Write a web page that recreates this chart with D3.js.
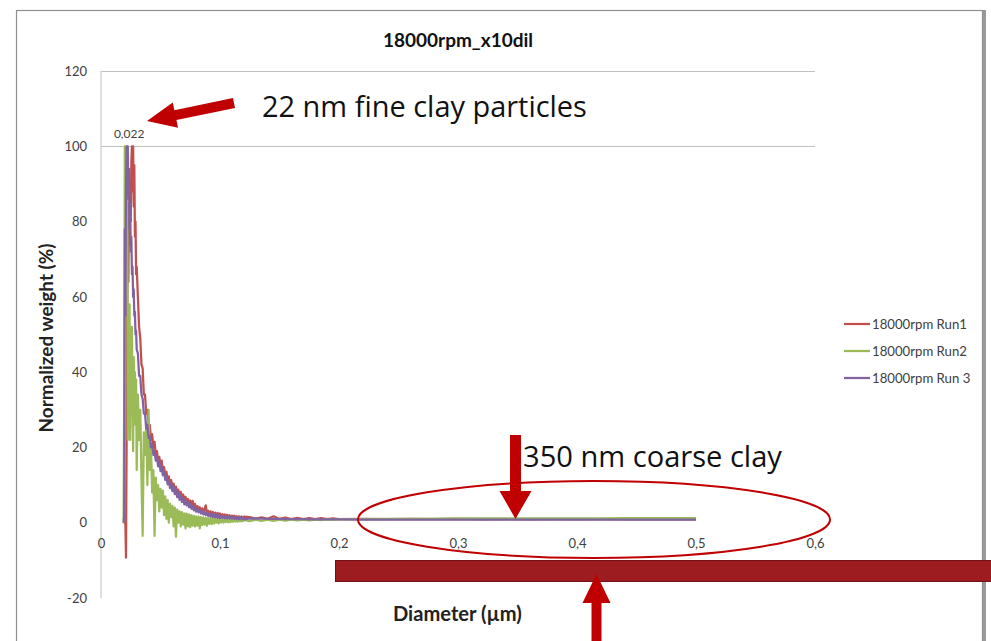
<!DOCTYPE html>
<html><head><meta charset="utf-8">
<script src="https://cdn.jsdelivr.net/npm/d3@7"></script>
<style>html,body{margin:0;padding:0;background:#fff;} svg{display:block}</style>
</head><body>
<svg id="chart" width="991" height="641"></svg>
<script>
// ---------------- DATA ----------------
const diameters = [
0.019,0.0195,0.020,0.0205,0.021,0.0215,0.022,0.0225,0.023,0.0235,0.024,0.0245,0.025,0.0255,0.026,0.0265,0.027,0.0275,0.028,0.0285,0.029,0.0295,0.030,
0.031,0.032,0.033,0.034,0.035,0.036,0.037,0.038,0.039,0.040,
0.041,0.042,0.043,0.044,0.045,0.046,0.047,0.048,0.049,0.050,
0.051,0.052,0.053,0.054,0.055,0.056,0.057,0.058,0.059,0.060,
0.061,0.062,0.063,0.064,0.065,0.066,0.067,0.068,0.069,0.070,
0.071,0.072,0.073,0.074,0.075,0.076,0.077,0.078,0.079,0.080,
0.081,0.082,0.083,0.084,0.085,0.086,0.087,0.088,0.089,0.090,
0.091,0.092,0.093,0.094,0.095,0.096,0.097,0.098,0.099,0.100,
0.101,0.102,0.103,0.104,0.105,0.106,0.107,0.108,0.109,0.110,
0.111,0.112,0.113,0.114,0.115,0.116,0.117,0.118,0.119,0.120,
0.125,0.130,0.135,0.140,0.145,0.150,0.155,0.160,0.165,0.170,0.175,0.180,0.185,0.190,0.195,0.200,
0.22,0.24,0.26,0.28,0.30,0.32,0.34,0.36,0.38,0.40,0.42,0.44,0.46,0.48,0.50
];

const run1 = [
0,0,0,0,-9.3,20,55,72,64,85,74,90,80,96,100,88,100,84,95,76,80,66,68,
60,52,49,42,41,34,34,29,30,25.5,
26,22,23.5,20,21.5,18,19,16.5,17.5,15,
16.5,13.5,14.8,12.4,13.5,11.2,12.3,10.2,11.3,9.1,
10.4,8.5,9.6,7.8,8.8,7,8.2,6.4,7.5,5.7,
6.9,5.2,6.3,4.7,5.9,4.4,5.8,4,5,3.6,
4.4,3.2,4.1,2.9,3.8,2.6,3.6,4.6,2.5,3.2,
2.1,3.0,1.95,2.85,1.8,2.7,1.7,2.6,1.6,2.45,
1.5,2.3,1.45,2.2,1.35,2.1,1.3,2.0,1.25,1.9,
1.2,1.85,1.15,1.75,1.12,1.7,1.1,1.65,1.08,1.6,
1.5,1.1,1.45,1.05,1.7,1.0,1.35,0.98,1.3,0.96,1.25,0.95,1.2,0.94,1.15,0.95,
1.05,0.95,1.02,0.93,1.0,0.92,0.98,0.92,0.96,0.9,0.95,0.9,0.92,0.9,0.9
];

const run2 = [
0,35,100,72,98,60,100,22,55,45,58,22,50,40,52,30,19,44,36,40,26,38,14,
34,22,30,12,-3.5,24,18,26,10,30,
14,20,8,14,-3.5,12,6,10,3,9,
4,8.5,2,7,1,6,0,5,1.5,4.5,
-1,4,-3.7,3.5,0,3,-1,2.8,-0.5,2.5,
-1.5,2.4,-1,2.2,-1.2,2,-0.8,1.8,-1,1.7,
-0.8,1.6,-1.5,1.5,-0.6,1.4,-0.5,1.3,-0.8,1.2,
-0.3,1.2,-0.4,1.1,-0.2,1.1,0,1.0,-0.2,1.0,
0.1,0.95,0,0.9,0.2,0.9,0.1,0.85,0.2,0.85,
0.25,0.8,0.3,0.8,0.3,0.8,0.35,0.75,0.4,0.75,
0.4,0.8,0.45,0.8,0.5,0.8,0.55,0.85,0.6,0.85,0.65,0.85,0.7,0.9,0.75,0.9,
0.95,1.0,1.05,1.1,1.12,1.15,1.15,1.17,1.17,1.18,1.18,1.2,1.2,1.2,1.2
];

const run3 = [
0,2,78,55,88,100,96,100,86,94,78,85,72,76,66,68,60,62,55,56,50,51,46,
45,39,39,34,33,29,29,25,26,22.5,
23,20,21,18,19,16.5,17.7,15,16.3,13.7,
14.8,12.6,13.6,11.4,12.4,10.2,11.3,9.2,10.4,8.4,
9.6,7.6,8.8,6.8,8,6.1,7.4,5.5,6.8,4.9,
5.9,4.6,5.4,4.1,4.9,3.7,4.5,3.3,4.1,2.95,
3.7,2.75,3.4,2.45,3.1,2.2,2.9,2.0,2.7,1.8,
2.5,1.6,2.35,1.5,2.25,1.4,2.15,1.3,2.05,1.2,
1.8,1.27,1.74,1.21,1.68,1.15,1.63,1.11,1.59,1.07,
1.55,1.03,1.51,0.99,1.47,0.95,1.44,0.93,1.42,0.91,
1.14,1.1,1.08,1.05,1.03,1.0,0.98,0.96,0.95,0.93,0.92,0.9,0.9,0.88,0.87,0.86,
0.85,0.84,0.84,0.83,0.83,0.82,0.82,0.82,0.81,0.81,0.81,0.8,0.8,0.8,0.8
];

const seriesNames = ["18000rpm Run1", "18000rpm Run2", "18000rpm Run 3"];
const seriesColors = ["#c0504d", "#9bbb59", "#8064a2"];
const yTicks = [-20, 0, 20, 40, 60, 80, 100, 120];
const xTicks = [0, 0.1, 0.2, 0.3, 0.4, 0.5, 0.6];
const gridValues = [100, 120];
const chartTitle = "18000rpm_x10dil";
const xTitle = "Diameter (\u00b5m)";
const yTitle = "Normalized weight (%)";
const peakLabel = "0,022";
const peakDiameter = 0.022;
const fineNote = "22 nm fine clay particles";
const coarseNote = "350 nm coarse clay";
const coarseDiameter = 0.35;

// ---------------- DRAW ----------------
const svg = d3.select("#chart");
const font = "Lato, 'Open Sans', sans-serif";
const noteFont = "'Open Sans', 'Noto Sans', sans-serif";
const red = "#c00000";

const x = d3.scaleLinear().domain([0, 0.6]).range([101, 815]);
const y = d3.scaleLinear().domain([-20, 120]).range([598, 71]);

svg.append("rect").attr("width", 991).attr("height", 641).attr("fill", "#fff");

// chart frame
svg.append("rect").attr("x", 16.5).attr("y", 10.5).attr("width", 966).attr("height", 700)
  .attr("fill", "none").attr("stroke", "#8f8f8f").attr("stroke-width", 1.2);
svg.append("line").attr("x1", 984.5).attr("x2", 984.5).attr("y1", 10).attr("y2", 641)
  .attr("stroke", "#9a9a9a").attr("stroke-width", 3);

function fit(sel, target) {
  const w = sel.node().getComputedTextLength();
  const fs = parseFloat(sel.attr("font-size"));
  sel.attr("font-size", (fs * target / w).toFixed(2));
  return sel;
}

// gridlines
svg.append("g").selectAll("line").data(gridValues).join("line")
  .attr("x1", x(0)).attr("x2", x(0.6))
  .attr("y1", d => Math.round(y(d)) + 0.5).attr("y2", d => Math.round(y(d)) + 0.5)
  .attr("stroke", "#bfbfbf").attr("stroke-width", 1);

// y axis line
svg.append("line").attr("x1", 101).attr("x2", 101).attr("y1", y(120)).attr("y2", y(-20))
  .attr("stroke", "#d4d4d4").attr("stroke-width", 1.5);

const fmt = d3.formatLocale({decimal: ",", thousands: " ", grouping: [3], currency: ["", ""]}).format("~g");

const yAxis = svg.append("g").attr("transform", "translate(101,0)")
  .call(d3.axisLeft(y).tickValues(yTicks).tickSize(0).tickPadding(14).tickFormat(d => d));
yAxis.select(".domain").remove();
yAxis.selectAll("text").attr("font-family", font).attr("font-size", 13).attr("fill", "#404040");

const xAxis = svg.append("g").attr("transform", `translate(0,${y(0)})`)
  .call(d3.axisBottom(x).tickValues(xTicks).tickSize(0).tickPadding(16).tickFormat(d => fmt(d)));
xAxis.select(".domain").remove();
xAxis.selectAll("text").attr("font-family", font).attr("font-size", 13).attr("fill", "#404040");

// series
const runs = [run1, run2, run3];
const line = d3.line().x(d => x(d[0])).y(d => y(d[1]));
runs.forEach((vals, i) => {
  const pts = diameters.map((d, j) => [d, vals[j]]);
  svg.append("path").datum(pts).attr("d", line)
    .attr("fill", "none").attr("stroke", seriesColors[i]).attr("stroke-width", 2.25)
    .attr("stroke-linejoin", "round");
});

// legend
const lg = svg.append("g");
seriesNames.forEach((name, i) => {
  const ly = 324 + i * 27;
  lg.append("line").attr("x1", 844).attr("x2", 870).attr("y1", ly).attr("y2", ly)
    .attr("stroke", seriesColors[i]).attr("stroke-width", 2.25);
  const t = lg.append("text").attr("x", 872).attr("y", ly).attr("dy", "0.35em")
    .attr("font-family", font).attr("font-size", 12).attr("fill", "#404040").text(name);
  if (i === 0) fit(t, 95);
  else t.attr("font-size", lg.select("text").attr("font-size"));
});

// titles
svg.append("text").attr("x", 458).attr("y", 47).attr("text-anchor", "middle")
  .attr("font-family", font).attr("font-weight", "bold").attr("font-size", 19).attr("fill", "#111")
  .text(chartTitle);
fit(svg.append("text").attr("x", 393).attr("y", 621)
  .attr("font-family", font).attr("font-weight", "bold").attr("font-size", 15).attr("fill", "#222")
  .text(xTitle), 129);
fit(svg.append("text").attr("transform", "translate(46,338) rotate(-90)").attr("text-anchor", "middle")
  .attr("dy", "0.35em")
  .attr("font-family", font).attr("font-weight", "bold").attr("font-size", 15).attr("fill", "#222")
  .text(yTitle), 189);

// peak data label
svg.append("text").attr("x", x(peakDiameter) + 2).attr("y", y(100) - 8).attr("text-anchor", "middle")
  .attr("font-family", font).attr("font-size", 12).attr("fill", "#404040").text(peakLabel);

// ---------------- ANNOTATIONS ----------------
function arrow(x1, y1, x2, y2, sw, hw, hl) {
  const dx = x2 - x1, dy = y2 - y1, L = Math.hypot(dx, dy);
  const ux = dx / L, uy = dy / L, nx = -uy, ny = ux;
  const bx = x2 - ux * hl, by = y2 - uy * hl;
  const p = [
    [x1 + nx * sw, y1 + ny * sw], [bx + nx * sw, by + ny * sw], [bx + nx * hw, by + ny * hw],
    [x2, y2], [bx - nx * hw, by - ny * hw], [bx - nx * sw, by - ny * sw], [x1 - nx * sw, y1 - ny * sw]
  ];
  svg.append("path").attr("d", "M" + p.map(q => q.join(",")).join("L") + "Z").attr("fill", red);
}

// fine clay note
arrow(234, 103, 147, 121, 5, 13, 29);
fit(svg.append("text").attr("x", 262).attr("y", 117)
  .attr("font-family", noteFont).attr("font-size", 27).attr("fill", "#111").text(fineNote), 325);

// coarse clay note
svg.append("ellipse").attr("cx", 594).attr("cy", 519.5).attr("rx", 236).attr("ry", 38.5)
  .attr("fill", "none").attr("stroke", red).attr("stroke-width", 2);
arrow(515.5, 435, x(coarseDiameter) - 2, y(1), 5.5, 16, 28);
fit(svg.append("text").attr("x", 523).attr("y", 467)
  .attr("font-family", noteFont).attr("font-size", 27).attr("fill", "#111").text(coarseNote), 259);

// dark red bar and upward arrow
svg.append("rect").attr("x", 335.5).attr("y", 560.5).attr("width", 670).attr("height", 21)
  .attr("fill", "#9d1c20").attr("stroke", "#6e1216").attr("stroke-width", 1);
arrow(596.5, 650, 596.5, 574, 5, 14, 29);
</script>
</body></html>
